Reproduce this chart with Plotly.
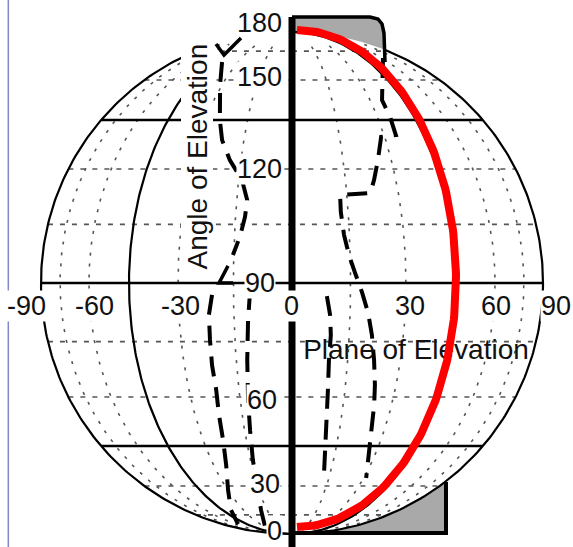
import numpy as np
import plotly.graph_objects as go

# ------------------------------------------------------------------ data
ELEV_TICKS = [0, 30, 60, 90, 120, 150, 180]
PLANE_TICKS = [-90, -60, -30, 0, 30, 60, 90]

# globe grid (plane of elevation = longitude, angle of elevation = 90 + latitude)
LAT_SOLID_ELEV = [49.5, 90.0, 130.5]
LAT_DOT_ELEV = [22.5, 36.0, 63.0, 76.5, 103.5, 117.0, 144.0, 157.5]
LON_DOT_PLANE = [-67.5, -54.0, -27.0, -13.5, 13.5, 27.0, 54.0, 67.5]
LON_SOLID_PLANE = [-90.0, -40.5, 40.5, 90.0]
LON_SOLID_TOP = [156.9, 138.5, 180.0, 158.5]
LON_DOT_TOP = 162.0

# dashed range-of-motion boundaries (plane, elevation) in degrees
A1_PLANE = [-36.0, -27.8, -22.2, -19.8, -16.5, -12.6, -10.9, -11.2, -12.2, -13.7]
A1_ELEV = [151.7, 142.1, 130.5, 124.7, 119.3, 114.2, 109.3, 105.2, 100.6, 96.4]
AK_PLANE = [-14.8, -16.9, -13.6]
AK_ELEV = [93.9, 90.0, 90.0]
A2_PLANE = [-18.6, -19.5, -19.6, -19.7, -19.5, -20.0, -20.6, -22.4, -26.8, -34.7, -50.4]
A2_ELEV = [87.3, 82.7, 76.9, 70.9, 64.8, 58.3, 51.3, 43.5, 34.4, 25.3, 16.2]
B_PLANE = [-9.6, -10.2, -10.8, -11.4, -11.9, -12.7, -13.6, -16.8, -25.5]
B_ELEV = [88.4, 81.5, 72.1, 62.2, 54.1, 45.2, 36.4, 25.3, 14.5]
C_PLANE = [54.9, 40.4, 31.6, 31.4, 30.8, 25.9, 23.1, 21.0, 19.5, 11.8, 11.7, 12.2,
           13.2, 14.5, 16.2, 17.8, 19.0, 20.1, 21.2, 22.0, 22.8, 24.0, 26.1, 28.0]
C_ELEV = [153.7, 146.0, 136.8, 131.4, 126.1, 125.6, 119.3, 114.2, 111.0, 110.5, 106.4, 101.0,
          96.4, 92.5, 87.9, 83.1, 78.0, 72.1, 66.0, 60.9, 55.5, 49.8, 43.5, 39.0]
D_PLANE = [8.0, 8.8, 9.1, 8.9, 9.1, 9.4, 10.0, 11.0, 11.4]
D_ELEV = [87.0, 82.7, 78.0, 72.1, 64.8, 58.3, 51.3, 43.5, 40.1]

# decorations in globe-radius units
CHEVRON_X = [-0.3028, -0.2709, -0.2032]
CHEVRON_Y = [0.9522, 0.9084, 0.9761]
GRAY_TOP_X = [0.0, 0.3108, 0.3426, 0.3586, 0.3665, 0.3705]
GRAY_TOP_Y = [1.0598, 1.0598, 1.0518, 1.0319, 0.9960, 0.8805]
GRAY_TOP_CIRCLE_ELEV = 158.5
GRAY_BOT_X = [0.0, 0.6135, 0.6135]
GRAY_BOT_Y = [-0.996, -0.996, -0.7928]
GRAY_BOT_CIRCLE_ELEV = 37.85
RED_CX, RED_CY, RED_A, RED_B = 0.0199, 0.0179, 0.6335, 0.990
CENTER_LINE_Y = [1.0598, -1.06]

ELEV_LABEL_X = [-0.0359, -0.0438, -0.0558, -0.0637, -0.0359, -0.0359, -0.0359]
ELEV_LABEL_Y = [-0.9880, -0.8008, -0.4661, 0.0, 0.4542, 0.8207, 1.0359]
PLANE_LABEL_X = [-1.0558, -0.7888, -0.4462, -0.0040, 0.4701, 0.8127, 1.0518]
PLANE_LABEL_Y = -0.0916

FONT = "Liberation Sans, Arial, sans-serif"


def proj(plane, elev):
    lon = np.radians(np.asarray(plane, dtype=float))
    lat = np.radians(np.asarray(elev, dtype=float) - 90.0)
    return np.cos(lat) * np.sin(lon), np.sin(lat)


fig = go.Figure()


def add_line(x, y, color="black", width=2.0, dash="solid", fill=None, fillcolor=None):
    fig.add_trace(go.Scatter(
        x=list(x), y=list(y), mode="lines",
        line=dict(color=color, width=width, dash=dash),
        fill=fill, fillcolor=fillcolor,
        hoverinfo="skip", showlegend=False))


# gray regions (between the globe outline and the boxes)
ce = np.linspace(GRAY_TOP_CIRCLE_ELEV, 180, 40)
cx, cy = proj(np.full_like(ce, 90.0), ce)
add_line(GRAY_TOP_X[:5] + list(cx), GRAY_TOP_Y[:5] + list(cy),
         color="rgba(0,0,0,0)", width=0, fill="toself", fillcolor="#a9a9a9")
ce = np.linspace(GRAY_BOT_CIRCLE_ELEV, 0, 40)
cx, cy = proj(np.full_like(ce, 90.0), ce)
add_line(GRAY_BOT_X + list(cx), GRAY_BOT_Y + list(cy),
         color="rgba(0,0,0,0)", width=0, fill="toself", fillcolor="#a9a9a9")

# dotted grid
for e in LAT_DOT_ELEV:
    lons = np.linspace(-90, 90, 121)
    x, y = proj(lons, np.full_like(lons, e))
    add_line(x, y, color="#555555", width=1.6, dash="5px,7px")
for p in LON_DOT_PLANE:
    el = np.linspace(0, LON_DOT_TOP, 181)
    x, y = proj(np.full_like(el, p), el)
    add_line(x, y, color="#555555", width=1.6, dash="3px,8px")

# solid grid
for e in LAT_SOLID_ELEV:
    lons = np.linspace(-90, 90, 121)
    x, y = proj(lons, np.full_like(lons, e))
    add_line(x, y, color="black", width=2.4)
for p, top in zip(LON_SOLID_PLANE, LON_SOLID_TOP):
    el = np.linspace(0, top, 181)
    x, y = proj(np.full_like(el, p), el)
    add_line(x, y, color="black", width=2.2)

# center axis (plane 0)
add_line([0, 0], CENTER_LINE_Y, color="black", width=7)

# box outlines
add_line(GRAY_TOP_X, GRAY_TOP_Y, color="black", width=3.5)
add_line(GRAY_BOT_X, GRAY_BOT_Y, color="black", width=4)

# dashed boundaries
DASH = "20px,11px"
for P, E in [(A1_PLANE, A1_ELEV), (A2_PLANE, A2_ELEV), (B_PLANE, B_ELEV),
             (C_PLANE, C_ELEV), (D_PLANE, D_ELEV)]:
    x, y = proj(P, E)
    add_line(x, y, color="black", width=4, dash=DASH)
x, y = proj(AK_PLANE, AK_ELEV)
add_line(x, y, color="black", width=3.5)
add_line(CHEVRON_X, CHEVRON_Y, color="black", width=3.5)

# plane-of-elevation caption (below the red overlay)
fig.add_trace(go.Scatter(
    x=[0.494], y=[-0.275], mode="text", text=["Plane of Elevation"],
    textfont=dict(family=FONT, size=28, color="#111111"),
    hoverinfo="skip", showlegend=False))

# red overlay
t = np.linspace(0, np.pi, 200)
add_line(RED_CX + RED_A * np.sin(t), RED_CY + RED_B * np.cos(t), color="#ff0000", width=8)

# tick labels
for v, x, y in zip(ELEV_TICKS, ELEV_LABEL_X, ELEV_LABEL_Y):
    fig.add_annotation(x=x, y=y, text=str(v), showarrow=False, xanchor="right",
                       yanchor="middle", font=dict(family=FONT, size=27, color="#111111"),
                       bgcolor=None if v == 180 else "white", borderpad=0)
for v, x in zip(PLANE_TICKS, PLANE_LABEL_X):
    fig.add_annotation(x=x, y=PLANE_LABEL_Y, text=str(v), showarrow=False,
                       xanchor="center", yanchor="middle",
                       font=dict(family=FONT, size=27, color="#111111"),
                       bgcolor="white", borderpad=0)

fig.add_annotation(x=-0.3785, y=0.504, text="Angle of Elevation", textangle=-90,
                   showarrow=False, xanchor="center", yanchor="middle",
                   font=dict(family=FONT, size=28, color="#111111"),
                   bgcolor="white", borderpad=0)

fig.add_shape(type="line", xref="paper", yref="paper", x0=0.0145, x1=0.0145, y0=0, y1=1,
              line=dict(color="#8088cc", width=1.5))

fig.update_layout(
    width=573, height=547, autosize=False,
    margin=dict(l=0, r=0, t=0, b=0, pad=0),
    paper_bgcolor="white", plot_bgcolor="white",
    showlegend=False,
    xaxis=dict(range=[-292 / 251, 281 / 251], visible=False, fixedrange=True),
    yaxis=dict(range=[-264 / 251, 283 / 251], visible=False, fixedrange=True),
)

fig.write_html("out.html", config={"displayModeBar": False},
               post_script="document.body.style.margin='0';")
